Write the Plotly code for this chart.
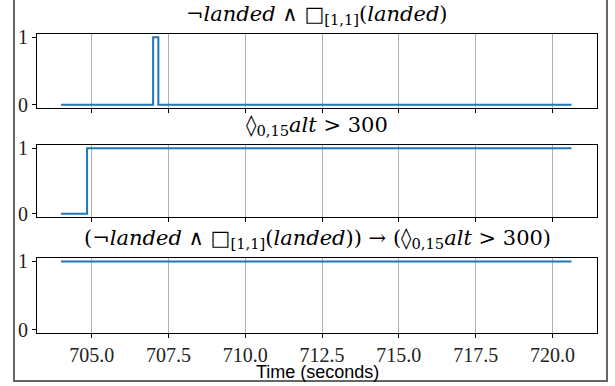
import plotly.graph_objects as go
from plotly.subplots import make_subplots

# Data
titles = [
    "¬<i>landed</i> ∧ □<sub>[1,1]</sub>(<i>landed</i>)",
    "◊<sub>0,15</sub><i>alt</i> > 300",
    "(¬<i>landed</i> ∧ □<sub>[1,1]</sub>(<i>landed</i>)) → (◊<sub>0,15</sub><i>alt</i> > 300)",
]
p1_time = [704.0, 707.0, 707.17, 720.62]
p1_val = [0, 1, 0, 0]
p2_time = [704.0, 704.85, 720.62]
p2_val = [0, 1, 1]
p3_time = [704.0, 720.62]
p3_val = [1, 1]
x_ticks = [705.0, 707.5, 710.0, 712.5, 715.0, 717.5, 720.0]
x_tick_labels = ["705.0", "707.5", "710.0", "712.5", "715.0", "717.5", "720.0"]
y_ticks = [0, 1]
x_label = "Time (seconds)"

W, H = 615, 386
L, R, T, B = 37, 18, 34, 53
pw = W - L - R
ph = H - T - B
def py(y):
    return (H - B - y) / ph
def px(x):
    return (x - L) / pw

domains = [(py(108), 1.0), (py(217), py(145)), (0.0, py(258))]

fig = make_subplots(rows=3, cols=1, shared_xaxes=False, vertical_spacing=0.05)
series = [(p1_time, p1_val), (p2_time, p2_val), (p3_time, p3_val)]
serif = "Liberation Serif, Times New Roman, Times, serif"
title_font = "DejaVu Serif, serif"
for i, (t, v) in enumerate(series):
    fig.add_trace(go.Scatter(x=t, y=v, mode="lines", line=dict(color="#1f77b4", width=2, shape="hv"),
                             showlegend=False, hoverinfo="skip"), row=i + 1, col=1)
    fig.update_xaxes(range=[703.22, 721.45], tickvals=x_ticks, ticktext=x_tick_labels,
                     showticklabels=(i == 2), ticks="outside", ticklen=4, tickcolor="black",
                     showgrid=True, gridcolor="#b0b0b0", gridwidth=1, zeroline=False,
                     showline=True, linecolor="black", linewidth=1, mirror=True,
                     tickfont=dict(family=serif, size=20, color="#222222"), row=i + 1, col=1)
    fig.update_yaxes(range=[-0.05, 1.05], tickvals=y_ticks, ticks="outside", ticklen=4, tickcolor="black",
                     showgrid=False, zeroline=False, showline=True, linecolor="black", linewidth=1,
                     mirror=True, domain=list(domains[i]),
                     tickfont=dict(family=serif, size=20, color="#222222"), row=i + 1, col=1)
    fig.add_annotation(text=titles[i], xref="paper", yref="paper", x=0.5, y=domains[i][1],
                       xanchor="center", yanchor="bottom", yshift=4, showarrow=False,
                       font=dict(family=title_font, size=21, color="black"))

fig.add_annotation(text=x_label, xref="paper", yref="paper", x=0.5, y=0, xanchor="center",
                   yanchor="top", yshift=-27, showarrow=False,
                   font=dict(family="Liberation Sans, Arial, sans-serif", size=18, color="black"))

# outer frame
fig.add_shape(type="rect", xref="paper", yref="paper",
              x0=px(14), x1=px(607), y0=py(381), y1=py(-5),
              line=dict(color="#666666", width=2), fillcolor="rgba(0,0,0,0)", layer="below")

fig.update_layout(width=W, height=H, margin=dict(l=L, r=R, t=T, b=B),
                  paper_bgcolor="white", plot_bgcolor="white", hovermode=False)
fig.write_html("out.html", config={"displayModeBar": False},
               post_script="document.body.style.margin='0';document.body.style.padding='0';")
